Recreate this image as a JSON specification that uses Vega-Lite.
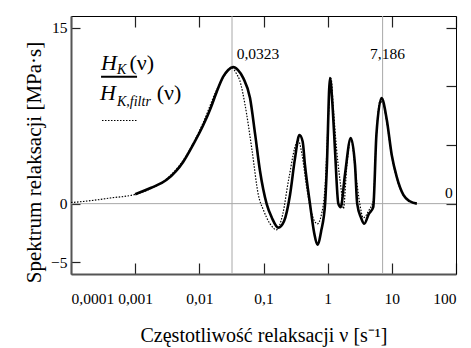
{
  "$schema": "https://vega.github.io/schema/vega-lite/v6.json",
  "width": 385,
  "height": 258,
  "autosize": {"type": "none"},
  "padding": {"left": 71, "top": 16, "right": 15, "bottom": 74},
  "background": "white",
  "config": {
    "view": {"stroke": null},
    "font": "Liberation Serif",
    "axis": {"labelColor": "#000", "titleColor": "#000", "labelFont": "Liberation Serif", "titleFont": "Liberation Serif", "labelFontSize": 15.5, "titleFontSize": 20, "titleFontWeight": "normal", "grid": false, "tickColor": "#222", "tickWidth": 1.2}
  },
  "datasets": {
    "solid": [
      {"nu": 0.001, "h": 0.8}, {"nu": 0.001778, "h": 1.35}, {"nu": 0.00309, "h": 2.03}, {"nu": 0.005623, "h": 3.58},
      {"nu": 0.007943, "h": 5.0}, {"nu": 0.01148, "h": 6.68}, {"nu": 0.01514, "h": 8.2}, {"nu": 0.01862, "h": 9.52},
      {"nu": 0.02344, "h": 10.8}, {"nu": 0.02818, "h": 11.4}, {"nu": 0.03388, "h": 11.65}, {"nu": 0.03981, "h": 11.4},
      {"nu": 0.04842, "h": 10.7}, {"nu": 0.06166, "h": 9.0}, {"nu": 0.07413, "h": 5.9}, {"nu": 0.0881, "h": 2.8},
      {"nu": 0.1122, "h": -0.04}, {"nu": 0.1349, "h": -1.2}, {"nu": 0.1698, "h": -2.05}, {"nu": 0.2089, "h": -1.5},
      {"nu": 0.2588, "h": 0.74}, {"nu": 0.309, "h": 3.84}, {"nu": 0.3631, "h": 5.85}, {"nu": 0.4074, "h": 5.3},
      {"nu": 0.4426, "h": 3.3}, {"nu": 0.5309, "h": -0.04}, {"nu": 0.6166, "h": -2.5}, {"nu": 0.6918, "h": -3.5},
      {"nu": 0.7943, "h": -2.3}, {"nu": 0.912, "h": 0}, {"nu": 0.966, "h": 2.8}, {"nu": 1.086, "h": 10.7},
      {"nu": 1.202, "h": 8.0}, {"nu": 1.3, "h": 4.6}, {"nu": 1.466, "h": 0}, {"nu": 1.596, "h": -0.3},
      {"nu": 1.862, "h": 2.5}, {"nu": 2.291, "h": 5.6}, {"nu": 2.667, "h": 3.3}, {"nu": 2.884, "h": 0},
      {"nu": 3.311, "h": -1.2}, {"nu": 3.715, "h": -1.72}, {"nu": 4.365, "h": -0.9}, {"nu": 5.129, "h": -0.3},
      {"nu": 5.754, "h": 5.9}, {"nu": 6.918, "h": 9.0}, {"nu": 8.318, "h": 7.2}, {"nu": 10, "h": 4.1},
      {"nu": 11.89, "h": 2.3}, {"nu": 15.14, "h": 0.74}, {"nu": 19.05, "h": 0.2}, {"nu": 24.55, "h": 0.0}
    ],
    "dotted": [
      {"nu": 0.0001, "h": 0.09}, {"nu": 0.0001995, "h": 0.25}, {"nu": 0.000407, "h": 0.48}, {"nu": 0.001, "h": 0.79},
      {"nu": 0.001778, "h": 1.3}, {"nu": 0.00309, "h": 2.1}, {"nu": 0.005623, "h": 3.7}, {"nu": 0.01148, "h": 6.9},
      {"nu": 0.01862, "h": 9.7}, {"nu": 0.02512, "h": 11.0}, {"nu": 0.03162, "h": 11.6}, {"nu": 0.03802, "h": 11.07},
      {"nu": 0.04266, "h": 10.5}, {"nu": 0.05129, "h": 8.5}, {"nu": 0.06607, "h": 4.6}, {"nu": 0.08318, "h": 0.74},
      {"nu": 0.1, "h": -0.56}, {"nu": 0.1259, "h": -1.7}, {"nu": 0.1585, "h": -2.23}, {"nu": 0.1995, "h": -0.9},
      {"nu": 0.2455, "h": 2.0}, {"nu": 0.3467, "h": 5.4}, {"nu": 0.3981, "h": 4.2}, {"nu": 0.4677, "h": 1.5},
      {"nu": 0.5623, "h": -0.8}, {"nu": 0.6918, "h": -1.72}, {"nu": 0.7943, "h": -1.0}, {"nu": 0.912, "h": 1.5},
      {"nu": 1.023, "h": 7.2}, {"nu": 1.127, "h": 10.7}, {"nu": 1.23, "h": 8.0}, {"nu": 1.38, "h": 4.6},
      {"nu": 1.66, "h": 0.74}, {"nu": 1.758, "h": -0.43}, {"nu": 1.995, "h": 3.3}, {"nu": 2.291, "h": 5.5},
      {"nu": 2.818, "h": 2.0}, {"nu": 3.162, "h": 0}, {"nu": 3.589, "h": -1.2}, {"nu": 4.467, "h": -0.5},
      {"nu": 5.129, "h": 0.2}, {"nu": 5.754, "h": 5.9}, {"nu": 6.531, "h": 8.7}, {"nu": 7.244, "h": 8.6},
      {"nu": 8.318, "h": 7.0}, {"nu": 10, "h": 4.0}, {"nu": 11.89, "h": 2.2}, {"nu": 15.14, "h": 0.7},
      {"nu": 19.05, "h": 0.2}, {"nu": 24.55, "h": 0.0}
    ]
  },
  "layer": [
    {
      "data": {"values": [{"v": 0.0323}, {"v": 7.186}]},
      "mark": {"type": "rule", "color": "#a8a8a8", "strokeWidth": 1},
      "encoding": {"x": {"field": "v", "type": "quantitative", "scale": {"type": "log", "domain": [0.0001, 100]}, "axis": null}}
    },
    {
      "data": {"values": [{"v": 0}]},
      "mark": {"type": "rule", "color": "#a8a8a8", "strokeWidth": 1},
      "encoding": {"y": {"field": "v", "type": "quantitative", "scale": {"domain": [-5, 15]}, "axis": null}}
    },
    {
      "data": {"name": "solid"},
      "mark": {"type": "line", "color": "#000", "strokeWidth": 2.6, "interpolate": "monotone"},
      "encoding": {
        "x": {"field": "nu", "type": "quantitative", "scale": {"type": "log", "domain": [0.0001, 100]},
          "axis": {"orient": "bottom", "values": [0.0001, 0.001, 0.01, 0.1, 1, 10, 100], "labelExpr": "replace(format(datum.value, '~g'), '.', ',')", "tickSize": -11, "labelPadding": 28, "domainColor": "#555", "domainWidth": 2, "title": "Częstotliwość relaksacji ν [s⁻¹]", "titlePadding": 19}},
        "y": {"field": "h", "type": "quantitative", "scale": {"domain": [-5, 15]},
          "axis": {"orient": "left", "values": [-5, 0, 15], "tickSize": -9, "labelPadding": 13, "domainColor": "#555", "domainWidth": 2, "title": "Spektrum relaksacji [MPa·s]", "titleFontSize": 21, "titlePadding": 6, "titleY": 146}}
      }
    },
    {
      "data": {"name": "dotted"},
      "mark": {"type": "line", "color": "#000", "strokeWidth": 1.2, "strokeDash": [1.5, 1.5], "interpolate": "monotone"},
      "encoding": {
        "x": {"field": "nu", "type": "quantitative", "scale": {"type": "log", "domain": [0.0001, 100]},
          "axis": {"orient": "top", "values": [0.0001, 0.001, 0.01, 0.1, 1, 10, 100], "labels": false, "tickSize": -11, "domainColor": "#000", "domainWidth": 1, "title": null}},
        "y": {"field": "h", "type": "quantitative", "scale": {"domain": [-5, 15]},
          "axis": {"orient": "right", "values": [0, 5, 10, 15], "labels": false, "tickSize": -10, "domainColor": "#000", "domainWidth": 1, "title": null}}
      }
    },
    {
      "data": {"values": [{"x1": 0.000294, "x2": 0.00107, "y": 10.81, "s": "solid"}]},
      "mark": {"type": "rule", "color": "#000", "strokeWidth": 2},
      "encoding": {
        "x": {"field": "x1", "type": "quantitative", "axis": null},
        "x2": {"field": "x2"},
        "y": {"field": "y", "type": "quantitative", "axis": null}
      }
    },
    {
      "data": {"values": [{"x1": 0.000304, "x2": 0.00107, "y": 7.09, "s": "dotted"}]},
      "mark": {"type": "rule", "color": "#000", "strokeWidth": 1.2, "strokeDash": [1.5, 1.5]},
      "encoding": {
        "x": {"field": "x1", "type": "quantitative", "axis": null},
        "x2": {"field": "x2"},
        "y": {"field": "y", "type": "quantitative", "axis": null}
      }
    },
    {
      "data": {"values": [
        {"x": 0.000294, "y": 11.43, "t": "H"},
        {"x": 0.000283, "y": 8.8, "t": "H"}
      ]},
      "mark": {"type": "text", "align": "left", "baseline": "alphabetic", "fontSize": 22, "fontStyle": "italic", "font": "Liberation Serif", "color": "#000"},
      "encoding": {
        "x": {"field": "x", "type": "quantitative", "axis": null},
        "y": {"field": "y", "type": "quantitative", "axis": null},
        "text": {"field": "t"}
      }
    },
    {
      "data": {"values": [
        {"x": 0.000816, "y": 11.43, "t": "(ν)"},
        {"x": 0.002168, "y": 8.8, "t": "(ν)"}
      ]},
      "mark": {"type": "text", "align": "left", "baseline": "alphabetic", "fontSize": 22, "font": "Liberation Serif", "color": "#000"},
      "encoding": {
        "x": {"field": "x", "type": "quantitative", "axis": null},
        "y": {"field": "y", "type": "quantitative", "axis": null},
        "text": {"field": "t"}
      }
    },
    {
      "data": {"values": [
        {"x": 0.000521, "y": 11.05, "t": "K"},
        {"x": 0.000521, "y": 8.33, "t": "K,filtr"}
      ]},
      "mark": {"type": "text", "align": "left", "baseline": "alphabetic", "fontSize": 14, "fontStyle": "italic", "font": "Liberation Serif", "color": "#000"},
      "encoding": {
        "x": {"field": "x", "type": "quantitative", "axis": null},
        "y": {"field": "y", "type": "quantitative", "axis": null},
        "text": {"field": "t"}
      }
    },
    {
      "data": {"values": [
        {"x": 0.0382, "y": 12.3, "t": "0,0323"},
        {"x": 4.57, "y": 12.3, "t": "7,186"},
        {"x": 67.6, "y": 0.5, "t": "0"}
      ]},
      "mark": {"type": "text", "align": "left", "baseline": "alphabetic", "fontSize": 15.5, "font": "Liberation Serif", "color": "#000"},
      "encoding": {
        "x": {"field": "x", "type": "quantitative", "axis": null},
        "y": {"field": "y", "type": "quantitative", "axis": null},
        "text": {"field": "t"}
      }
    }
  ],
  "resolve": {"scale": {"x": "shared", "y": "shared"}, "axis": {"x": "independent", "y": "independent"}}
}
